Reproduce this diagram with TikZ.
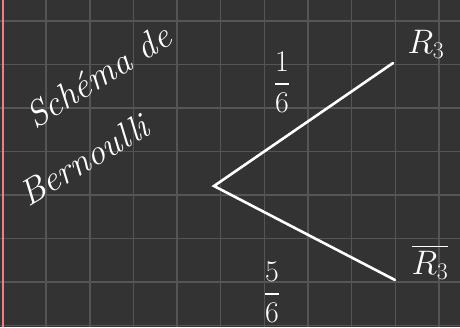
\documentclass[tikz,border=0pt]{standalone}
\usepackage{fix-cm}
\usepackage{amsmath,amssymb}
\usepackage{fontspec}
\usepackage{xcolor}
\usetikzlibrary{positioning,calc}
\definecolor{BoardGray}{HTML}{333333}
\definecolor{GridGray}{HTML}{555555}
\definecolor{MarginPink}{HTML}{F08080}

\begin{document}
\begin{tikzpicture}[x=1pt,y=-1pt,
    chalk/.style={white,line width=2.6pt,line cap=round},
    handtext/.style={white,font=\fontsize{36}{36}\selectfont\itshape},
    prob/.style={white,font=\fontsize{30}{30}\selectfont}]
  % board and grid
  \fill[BoardGray] (0,0) rectangle (460,327);
  \useasboundingbox (0,0) rectangle (460,327);
  \foreach \i in {1,...,10}
    \draw[GridGray,line width=1.4pt] ({2.5+43.65*\i},0)--({2.5+43.65*\i},327);
  \foreach \j in {0,...,7}
    \draw[GridGray,line width=1.4pt] (0,{20.8+43.5*\j})--(460,{20.8+43.5*\j});
  \draw[MarginPink,line width=2pt] (3,0)--(3,327);
  % title
  \node[handtext,rotate=32,inner sep=0pt] (title1) at (98,76) {Schéma de};
  \node[handtext,rotate=31,inner sep=0pt] (title2) at (84,160) {Bernoulli};
  % tree
  \coordinate (root) at (214,186);
  \coordinate (up) at (393,63);
  \coordinate (down) at (395,280);
  \draw[chalk] (up)--(root)--(down);
  \node[prob] (pup) at (282,82) {$\dfrac{1}{6}$};
  \node[prob] (pdown) at (272,292) {$\dfrac{5}{6}$};
  \node[prob,font=\fontsize{34}{34}\selectfont] (rup) at (426,44) {$R_3$};
  \node[prob,font=\fontsize{34}{34}\selectfont] (rdown) at (430,262) {$\overline{R_3}$};
\end{tikzpicture}
\end{document}
